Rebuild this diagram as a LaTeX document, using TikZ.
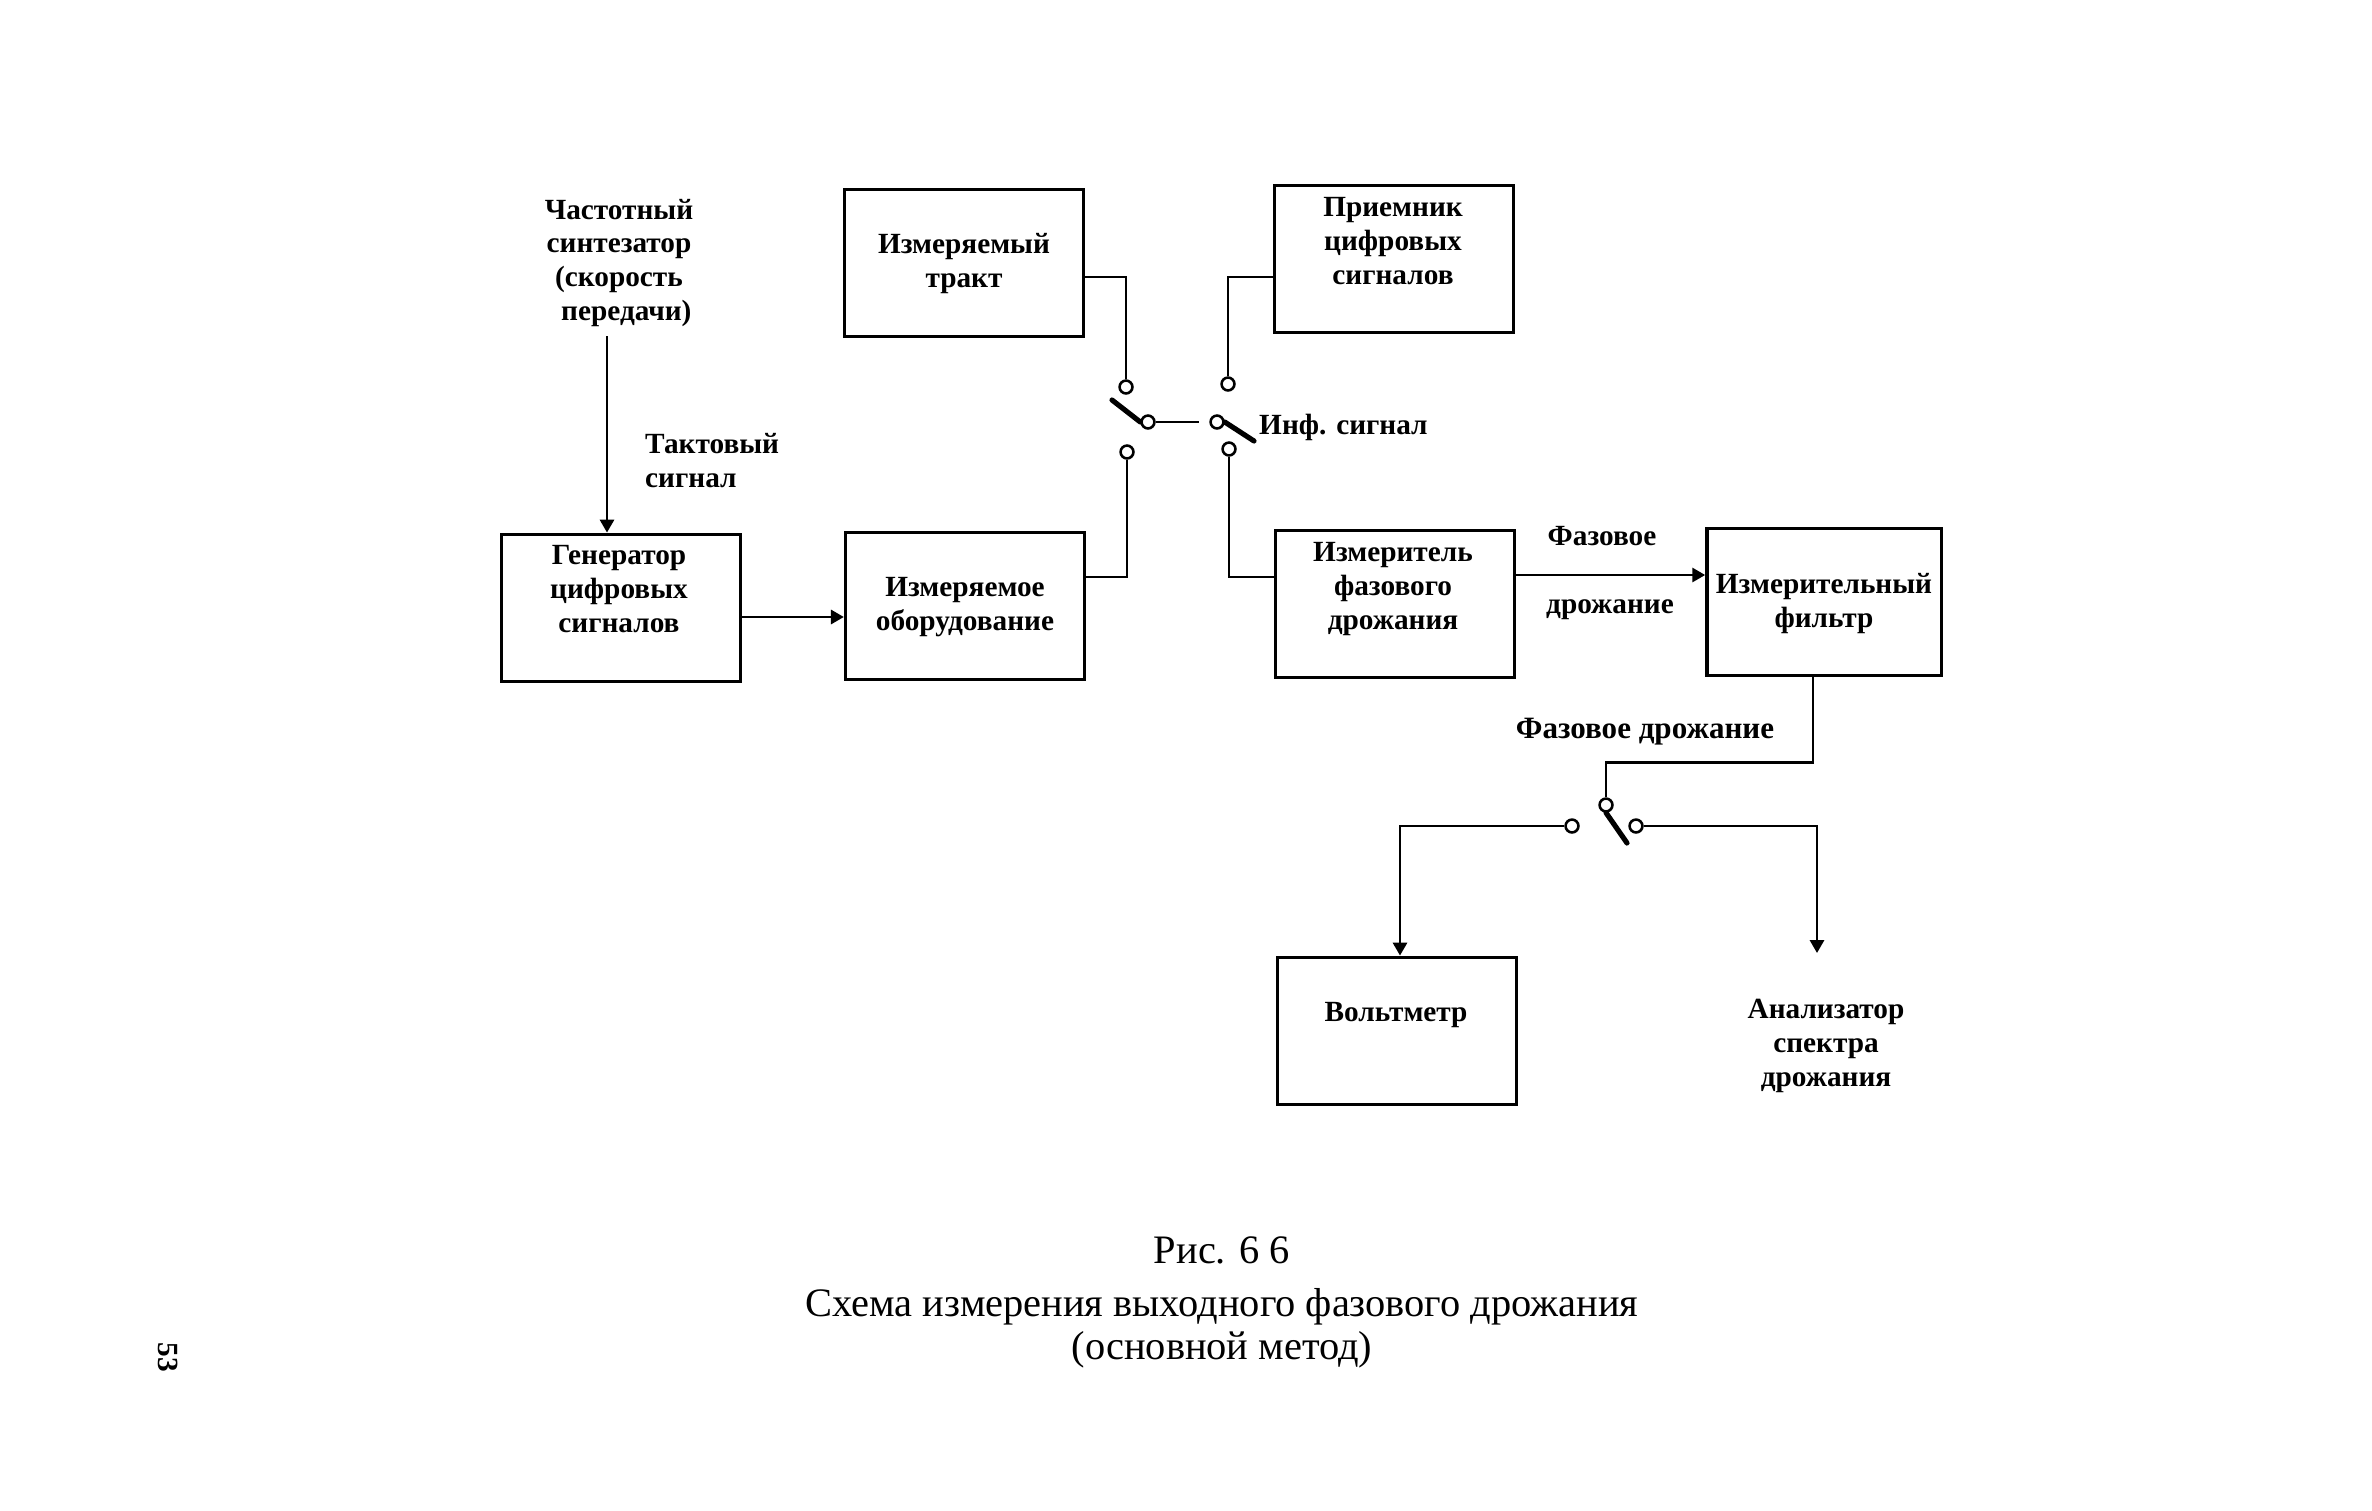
\documentclass[tikz,border=0pt]{standalone}
\usepackage{fontspec}
\setmainfont{Liberation Serif}
\usetikzlibrary{calc,arrows.meta}
\tikzset{
  px/.style={x=0.03cm,y=-0.03cm},
  blockbox/.style={draw,line width=2.8pt,minimum width=204pt,minimum height=126pt,inner sep=0pt},
  lab/.style={font=\fontsize{25}{29}\selectfont\bfseries,align=center,inner sep=0pt},
  labl/.style={lab,align=left,anchor=west},
  captxt/.style={font=\fontsize{34.5}{36.5}\selectfont,align=center,inner sep=0pt},
  term/.style={circle,draw,line width=2.2pt,fill=white,minimum size=11pt,inner sep=0pt},
  wire/.style={line width=2.3pt},
  blade/.style={line width=4.4pt,line cap=round},
  arr/.style={wire,-{Triangle[length=11pt,width=12pt]}}
}
\begin{document}
\begin{tikzpicture}[px]
\useasboundingbox (0,0) rectangle (2372,1511);
\fill[white] (0,0) rectangle (2372,1511);
% blocks
\node[blockbox] (tract) at (964,263) {};
\node[blockbox] (rx) at (1394,259) {};
\node[blockbox] (gen) at (621,608) {};
\node[blockbox] (dut) at (965,606) {};
\node[blockbox] (jm) at (1395,604) {};
\node[blockbox,minimum width=200pt] (flt) at (1824,602) {};
\node[blockbox] (vm) at (1397,1031) {};
% block labels
\node[lab] (ltract) at (964,264) {Измеряемый\\тракт};
\node[lab] (lrx) at (1393,241) {Приемник\\цифровых\\сигналов};
\node[lab] (lgen) at (619,589) {Генератор\\цифровых\\сигналов};
\node[lab] (ldut) at (965,607) {Измеряемое\\оборудование};
\node[lab] (ljm) at (1393,589) {Измеритель\\фазового\\дрожания};
\node[lab] (lflt) at (1824,604) {Измерительный\\фильтр};
\node[lab] (lvm) at (1396,1015) {Вольтметр};
% free labels
\node[lab] (synth) at (619,263) {Частотный\\синтезатор\\(скорость\\\ \ передачи)};
\node[labl] (clk) at (645,461) {Тактовый\\сигнал};
\node[labl] (inf) at (1259,427) {Инф. сигнал};
\node[lab] (fj1) at (1602,536) {Фазовое};
\node[lab] (fj2) at (1610,610) {дрожание};
\node[lab,font=\fontsize{26.5}{29}\selectfont\bfseries] (fj3) at (1645,732) {Фазовое дрожание};
\node[lab] (spec) at (1826,1046) {Анализатор\\спектра\\дрожания};
% caption
\node[captxt] (c1) at (1222,1250) {Рис. 6 6};
\node[captxt] (c2) at (1222,1328) {Схема измерения выходного фазового дрожания\\(основной метод)};
\node[font=\fontsize{25}{28}\selectfont\bfseries,rotate=-90,inner sep=0pt] (pg) at (168,1357) {53};
% switch 1
\node[term] (a1) at (1126,387) {};
\node[term] (a2) at (1127,452) {};
\node[term] (ac) at (1148,422) {};
\coordinate (ab) at (1112,400);
\coordinate (awire) at (1199,422);
\node[term] (b1) at (1228,384) {};
\node[term] (b2) at (1229,449) {};
\node[term] (bc) at (1217,422) {};
\coordinate (bb) at (1254,441);
% switch 2
\node[term] (s) at (1606,805) {};
\coordinate (sb) at (1627,843);
\node[term] (s1) at (1572,826) {};
\node[term] (s2) at (1636,826) {};
\coordinate (specin) at (1817,953);
% connectors
\draw[wire] (a1.north) |- ($(tract.east)+(0,14)$);
\draw[wire] (a2.south) |- ($(dut.east)+(0,-29)$);
\draw[wire] (b1.north) |- ($(rx.west)+(0,18)$);
\draw[wire] (b2.south) |- ($(jm.west)+(0,-27)$);
\draw[wire] (ac.east) -- (awire);
\draw[blade] (ac.west) -- (ab);
\draw[blade] (bc.east) -- (bb);
\draw[arr] ($(synth.south)+(-12,9)$) -- ($(gen.north)+(-14,0)$);
\draw[arr] ($(gen.east)+(0,9)$) -- ($(dut.west)+(0,11)$);
\draw[arr] ($(jm.east)+(0,-29)$) -- ($(flt.west)+(0,-27)$);
\draw[wire] ($(flt.south)+(-11,0)$) |- ($(s.north)+(0,-35)$) -- (s.north);
\draw[blade] (s.south) -- (sb);
\draw[arr] (s1.west) -| ($(vm.north)+(3,0)$);
\draw[arr] (s2.east) -| (specin);
\end{tikzpicture}
\end{document}
